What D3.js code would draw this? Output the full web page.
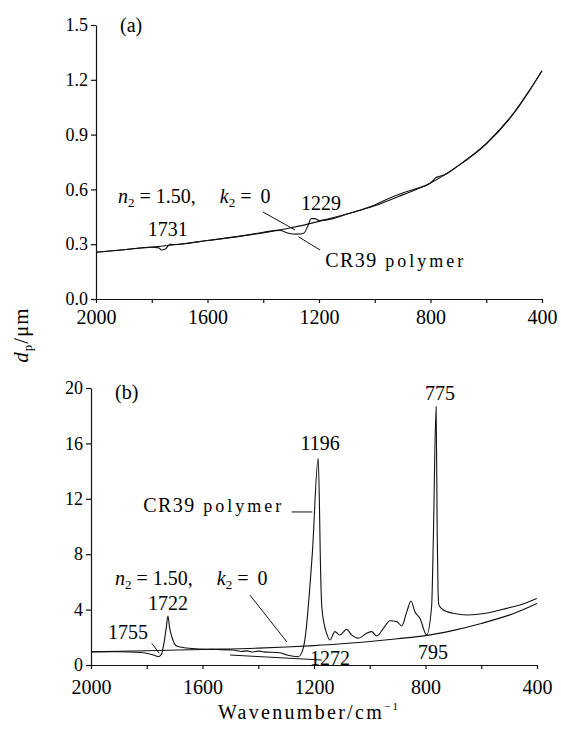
<!DOCTYPE html>
<html>
<head>
<meta charset="utf-8">
<script src="https://cdn.jsdelivr.net/npm/d3@7"></script>
<style>
  body { margin: 0; background: #fff; }
  svg { font-family: "Liberation Serif", "DejaVu Serif", serif; }
</style>
</head>
<body>
<script>
var width = 561;
var height = 729;

// panel (a): wavenumber / dp (um)
var aRefWave = [2000, 1900, 1800, 1700, 1600, 1500, 1400, 1300, 1200, 1100, 1000, 900, 800, 700, 600, 500, 450, 400];
var aRefVal  = [0.256, 0.27, 0.284, 0.30, 0.32, 0.34, 0.365, 0.39, 0.425, 0.465, 0.51, 0.57, 0.635, 0.73, 0.85, 1.02, 1.13, 1.25];
var aCrWave = [2000, 1900, 1800, 1775, 1765, 1750, 1735, 1725, 1700, 1600, 1500, 1400, 1340, 1310, 1280, 1255, 1240, 1228, 1215, 1200, 1150, 1100, 1000, 950, 900, 850, 800, 790, 780, 770, 750, 700, 600, 500, 450, 400];
var aCrVal  = [0.256, 0.27, 0.283, 0.28, 0.268, 0.275, 0.30, 0.298, 0.30, 0.32, 0.34, 0.362, 0.375, 0.36, 0.355, 0.36, 0.40, 0.44, 0.44, 0.43, 0.44, 0.465, 0.515, 0.55, 0.58, 0.605, 0.635, 0.65, 0.665, 0.67, 0.68, 0.73, 0.85, 1.02, 1.13, 1.25];

// panel (b)
var bRefWave = [2000, 1800, 1600, 1400, 1300, 1200, 1100, 1000, 900, 800, 700, 600, 500, 400];
var bRefVal  = [0.95, 1.03, 1.12, 1.22, 1.3, 1.4, 1.53, 1.7, 1.9, 2.12, 2.5, 3.0, 3.6, 4.45];
var bCrWave = [2000, 1900, 1820, 1790, 1770, 1760, 1748, 1738, 1730, 1724, 1718, 1710, 1693, 1657, 1600, 1550, 1490, 1460, 1440, 1420, 1400, 1380, 1322, 1297, 1256, 1245, 1233, 1206, 1185, 1180, 1178, 1172, 1163, 1155, 1143, 1125, 1107, 1083, 1065, 1041, 1011, 993, 975, 951, 927, 903, 885, 867, 852, 838, 820, 796, 778, 772, 762, 758, 755, 752, 736, 700, 652, 604, 557, 509, 461, 401];
var bCrVal  = [0.96, 0.96, 0.9, 0.8, 0.68, 0.6, 0.75, 1.6, 2.7, 3.54, 2.7, 2.04, 1.37, 1.23, 1.15, 1.12, 1.08, 0.98, 1.02, 0.94, 1.0, 0.95, 0.88, 0.72, 0.6, 0.84, 1.8, 8.06, 14.92, 11, 8.5, 4.2, 2.9, 2.3, 1.8, 2.41, 2.17, 2.58, 2.17, 1.93, 2.29, 2.41, 2.09, 2.65, 3.2, 3.13, 2.82, 3.85, 4.62, 3.85, 3.37, 2.17, 4.24, 9.0, 18.65, 9.5, 5.4, 4.33, 3.97, 3.73, 3.61, 3.68, 3.85, 4.09, 4.33, 4.8];

var xTicks = [2000, 1800, 1600, 1400, 1200, 1000, 800, 600, 400];
var aYTicks = [0.0, 0.3, 0.6, 0.9, 1.2, 1.5];
var bYTicks = [0, 4, 8, 12, 16, 20];

var svg = d3.select("body").append("svg")
    .attr("width", width)
    .attr("height", height);

var xA = d3.scaleLinear().domain([2000, 400]).range([96, 542]);
var yA = d3.scaleLinear().domain([0, 1.5]).range([299, 25]);
var xB = d3.scaleLinear().domain([2000, 400]).range([91, 537]);
var yB = d3.scaleLinear().domain([0, 20]).range([665, 388]);

function xLabel(d) { return d % 400 === 0 ? d : ""; }

function drawAxes(x, y, yTicks, yFmt, pad) {
    var gx = svg.append("g")
        .attr("transform", "translate(0," + y.range()[0] + ")")
        .call(d3.axisBottom(x).tickValues(xTicks).tickFormat(xLabel).tickSize(4).tickSizeOuter(0).tickPadding(pad));
    gx.selectAll("text").style("font-size", "20px").style("font-family", "Liberation Serif");
    var gy = svg.append("g")
        .attr("transform", "translate(" + x.range()[0] + ",0)")
        .call(d3.axisLeft(y).tickValues(yTicks).tickFormat(yFmt).tickSize(5).tickSizeOuter(0).tickPadding(3));
    gy.selectAll("text").style("font-size", "18px").style("font-family", "Liberation Serif");
    svg.selectAll(".domain, .tick line").attr("stroke", "#111").attr("stroke-width", 1.2);
}

drawAxes(xA, yA, aYTicks, d3.format(".1f"), 7);
drawAxes(xB, yB, bYTicks, d3.format("d"), 11);

function drawLine(x, y, wave, vals) {
    var line = d3.line()
        .x(function(d, i) { return x(wave[i]); })
        .y(function(d, i) { return y(vals[i]); })
        .curve(d3.curveMonotoneX);
    svg.append("path")
        .datum(vals)
        .attr("d", line)
        .attr("fill", "none")
        .attr("stroke", "#111")
        .attr("stroke-width", 1.1)
        .attr("stroke-linejoin", "round");
}

drawLine(xA, yA, aRefWave, aRefVal);
drawLine(xA, yA, aCrWave, aCrVal);
drawLine(xB, yB, bRefWave, bRefVal);
drawLine(xB, yB, bCrWave, bCrVal);

// leader lines [w1, v1, w2, v2]
var aLeaders = [[1401, 0.476, 1286, 0.378], [1274, 0.341, 1196, 0.268]];
var bLeaders = [[1280, 11.05, 1206, 11.05], [1430, 5.05, 1297, 1.66], [1782, 1.57, 1755, 0.84], [1501, 0.72, 1172, 0.36]];

function drawLeaders(x, y, list) {
    svg.append("g").selectAll("line").data(list).enter().append("line")
        .attr("x1", function(d) { return x(d[0]); })
        .attr("y1", function(d) { return y(d[1]); })
        .attr("x2", function(d) { return x(d[2]); })
        .attr("y2", function(d) { return y(d[3]); })
        .attr("stroke", "#111")
        .attr("stroke-width", 1);
}
drawLeaders(xA, yA, aLeaders);
drawLeaders(xB, yB, bLeaders);

// plain number labels [text, wave, value, anchor]
var aLabels = [["(a)", 1914, 1.5, "start"], ["1731", 1743, 0.383, "middle"], ["1229", 1193, 0.526, "middle"]];
var bLabels = [["(b)", 1914, 19.7, "start"], ["1722", 1724, 4.48, "middle"], ["1755", 1867, 2.38, "middle"],
               ["1196", 1178, 16.03, "middle"], ["775", 748, 19.64, "middle"], ["1272", 1143, 0.5, "middle"], ["795", 773, 0.96, "middle"]];

function drawLabels(x, y, list) {
    svg.append("g").selectAll("text").data(list).enter().append("text")
        .attr("x", function(d) { return x(d[1]); })
        .attr("y", function(d) { return y(d[2]); })
        .attr("dy", "0.35em")
        .attr("text-anchor", function(d) { return d[3]; })
        .style("font-size", "20px")
        .text(function(d) { return d[0]; });
}
drawLabels(xA, yA, aLabels);
drawLabels(xB, yB, bLabels);

function crLabel(x, y, w, v) {
    var t = svg.append("text")
        .attr("x", x(w)).attr("y", y(v)).attr("dy", "0.35em")
        .style("font-size", "20px");
    t.append("tspan").text("CR39").style("letter-spacing", "1.5px");
    t.append("tspan").text(" polymer").style("font-size", "18px").style("letter-spacing", "3px");
}
crLabel(xA, yA, 1178, 0.213);
crLabel(xB, yB, 1813, 11.55);

function nLabel(x, y, w, v) {
    var t = svg.append("text")
        .attr("x", x(w)).attr("y", y(v)).attr("dy", "0.35em")
        .style("font-size", "20px");
    t.append("tspan").text("n").style("font-style", "italic");
    t.append("tspan").text("2").style("font-size", "13px").attr("dy", "4");
    t.append("tspan").text("\u2005=\u20051.50,\u2003\u2009").attr("dy", "-4");
    t.append("tspan").text("k").style("font-style", "italic");
    t.append("tspan").text("2").style("font-size", "13px").attr("dy", "4");
    t.append("tspan").text("\u2005=\u2005\u20090").attr("dy", "-4");
}
nLabel(xA, yA, 1921, 0.564);
nLabel(xB, yB, 1914, 6.28);

// axis titles
var yt = svg.append("text")
    .attr("transform", "translate(28,335) rotate(-90)")
    .attr("text-anchor", "middle")
    .style("font-size", "21px")
    .style("letter-spacing", "1px");
yt.append("tspan").text("d").style("font-style", "italic");
yt.append("tspan").text("p").style("font-size", "13px").attr("dy", "4");
yt.append("tspan").text("/\u03bcm").attr("dy", "-4");

var xt = svg.append("text")
    .attr("x", 218).attr("y", 719)
    .style("font-size", "20px")
    .style("letter-spacing", "2.3px");
xt.append("tspan").text("Wavenumber/cm");
xt.append("tspan").text("\u22121").style("font-size", "11px").attr("dy", "-9");
</script>
</body>
</html>
